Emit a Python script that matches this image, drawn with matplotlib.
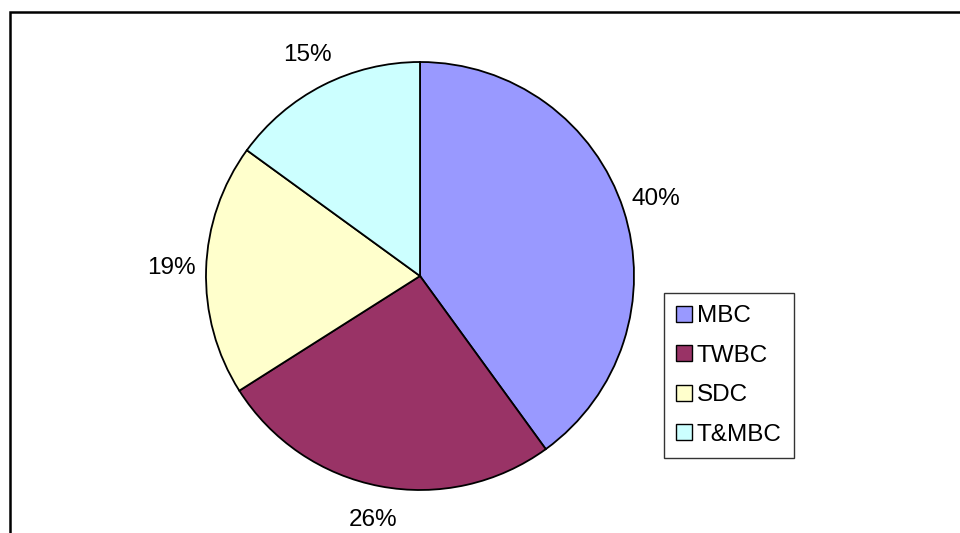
import matplotlib
matplotlib.use("Agg")
import matplotlib.pyplot as plt
from matplotlib.patches import Rectangle

categories = ["MBC", "TWBC", "SDC", "T&MBC"]
values = [40, 26, 19, 15]
colors = ["#9999FF", "#993366", "#FFFFCC", "#CCFFFF"]

plt.rcParams['font.family'] = ['Liberation Sans', 'DejaVu Sans']

W, H = 960, 533
fig = plt.figure(figsize=(W / 100, H / 100), dpi=100)

# Chart frame (extends beyond right/bottom edges)
fig.patches.append(Rectangle((10 / W, -0.1), 1.2, (H - 12) / H + 0.1,
                             transform=fig.transFigure, fill=False,
                             edgecolor="black", linewidth=1.8))

cx, cy, r = 420, 276, 214
ax = fig.add_axes([(cx - r) / W, (H - cy - r) / H, 2 * r / W, 2 * r / H])
wedges, texts = ax.pie(values, colors=colors, startangle=90, counterclock=False,
                       labels=[f"{v}%" for v in values], labeldistance=1.16,
                       wedgeprops=dict(edgecolor="black", linewidth=1.3),
                       textprops=dict(fontsize=17.5, color="black"))
for t in texts:
    t.set_horizontalalignment("center")
    t.set_verticalalignment("center")
ax.set_xlim(-1, 1)
ax.set_ylim(-1, 1)
ax.set_aspect("auto")
ax.axis("off")

leg = fig.legend(wedges, categories, loc="upper left",
                 bbox_to_anchor=(664 / W, 1 - 293 / H),
                 fontsize=17.5, frameon=True, fancybox=False,
                 edgecolor="black", handlelength=0.65, handleheight=0.65,
                 handletextpad=0.2, labelspacing=0.72, borderpad=0.5,
                 borderaxespad=0)
leg.get_frame().set_linewidth(1.0)
for h in leg.legend_handles:
    h.set_linewidth(1.0)

fig.savefig("out.png", dpi=100)
